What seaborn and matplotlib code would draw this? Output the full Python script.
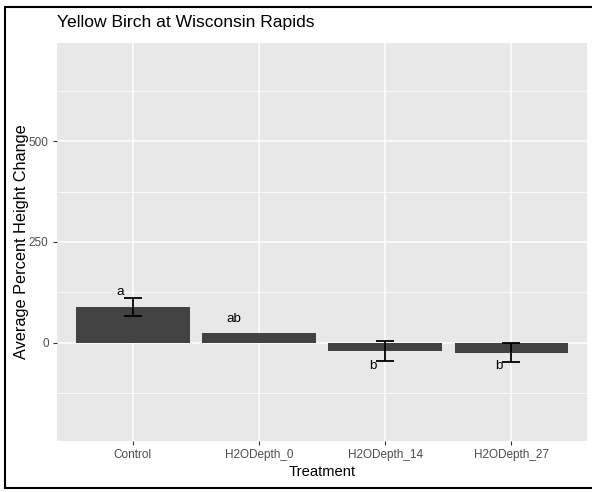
import matplotlib
matplotlib.use("Agg")
import matplotlib.pyplot as plt
from matplotlib.lines import Line2D
import numpy as np
import pandas as pd
import seaborn as sns

# Mean percent height change per treatment, with standard errors
treatments = ["Control", "H2ODepth_0", "H2ODepth_14", "H2ODepth_27"]
mean_change = [88, 24, -22, -25]
std_error = [23, np.nan, 25, 23]
# Compact letter display from the post-hoc comparison
letters = ["a", "ab", "b", "b"]
letter_x = [-0.10, 0.80, 1.90, 2.90]
letter_y = [118, 52, -67, -67]

df = pd.DataFrame({"Treatment": treatments, "Change": mean_change, "SE": std_error})

sns.set_theme(style="darkgrid")
plt.rcParams["font.family"] = ["Liberation Sans", "DejaVu Sans"]

W, H = 592, 492
fig = plt.figure(figsize=(W / 100, H / 100), dpi=100)
fig.patch.set_facecolor("white")
ax = fig.add_axes([57 / W, 1 - 441 / H, (587 - 57) / W, (441 - 43) / H])
ax.set_facecolor("#E8E8E8")

sns.barplot(data=df, x="Treatment", y="Change", color="#424242", width=0.9,
            saturation=1, errorbar=None, ax=ax, zorder=3, edgecolor="none")

has_se = df["SE"].notna()
ax.errorbar(np.arange(len(df))[has_se], df["Change"][has_se], yerr=df["SE"][has_se],
            fmt="none", ecolor="black", elinewidth=1.3, capsize=6.5, capthick=1.3, zorder=4)

for t, x, y in zip(letters, letter_x, letter_y):
    ax.text(x, y, t, ha="center", va="baseline", fontsize=9.6, color="black", zorder=5)

ax.set_xlim(-0.6, 3.6)
ax.set_ylim(-245, 745)
ax.set_yticks([0, 250, 500])
ax.set_yticks([-125, 125, 375, 625], minor=True)
ax.grid(which="major", color="white", linewidth=1.1)
ax.grid(which="minor", axis="y", color="white", linewidth=0.55)
ax.grid(which="minor", axis="x", visible=False)
ax.set_axisbelow(True)
for s in ax.spines.values():
    s.set_visible(False)

ax.tick_params(axis="both", which="major", length=3, width=0.8, color="#333333",
               labelcolor="#4D4D4D", labelsize=8.5, pad=3, bottom=True, left=True)
ax.tick_params(axis="both", which="minor", length=0)

ax.set_xlabel("Treatment", fontsize=10.6, color="black", labelpad=3)
ax.set_ylabel("Average Percent Height Change", fontsize=11.7, color="black", labelpad=0)

fig.text(57 / W, 1 - 22 / H, "Yellow Birch at Wisconsin Rapids", ha="left", va="center",
         fontsize=12.6, color="black")

# Frame around the figure (left, top, bottom edges)
lw = 1.5
fig.add_artist(Line2D([5 / W, 5 / W], [1 - 488 / H, 1 - 7 / H], color="black", linewidth=lw,
                      transform=fig.transFigure))
fig.add_artist(Line2D([5 / W, 1.0], [1 - 7 / H, 1 - 7 / H], color="black", linewidth=lw,
                      transform=fig.transFigure))
fig.add_artist(Line2D([5 / W, 1.0], [1 - 488 / H, 1 - 488 / H], color="black", linewidth=lw,
                      transform=fig.transFigure))

fig.savefig("out.png", dpi=100)
